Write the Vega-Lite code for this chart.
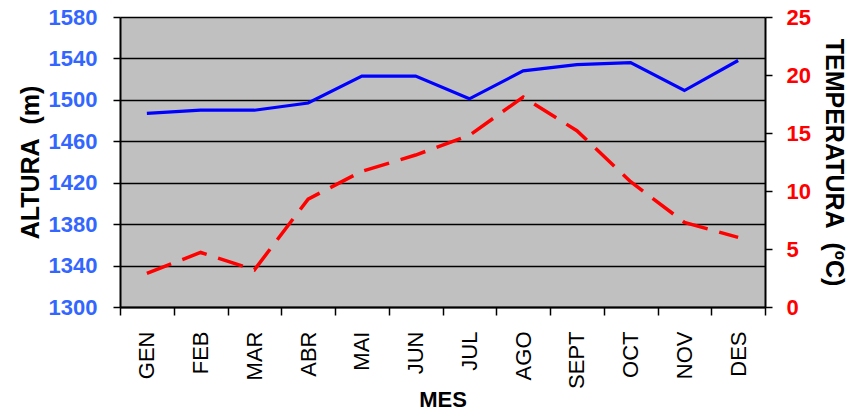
{
  "$schema": "https://vega.github.io/schema/vega-lite/v6.json",
  "autosize": "none",
  "width": 645,
  "height": 290,
  "padding": {"left": 120, "top": 17, "right": 96, "bottom": 105},
  "background": "white",
  "config": {
    "view": {"fill": "#C0C0C0", "stroke": null},
    "font": "Liberation Sans",
    "axis": {
      "domainColor": "black",
      "domainWidth": 2,
      "tickColor": "black",
      "tickWidth": 1.5,
      "gridColor": "black",
      "gridWidth": 1.5,
      "gridOpacity": 1,
      "labelFont": "Liberation Sans",
      "titleFont": "Liberation Sans",
      "titleColor": "black"
    }
  },
  "data": {
    "values": [
      {"mes": "GEN", "altura": 1487, "temp": 2.9},
      {"mes": "FEB", "altura": 1490, "temp": 4.7},
      {"mes": "MAR", "altura": 1490, "temp": 3.2},
      {"mes": "ABR", "altura": 1497, "temp": 9.3},
      {"mes": "MAI", "altura": 1523, "temp": 11.7},
      {"mes": "JUN", "altura": 1523, "temp": 13.1},
      {"mes": "JUL", "altura": 1501, "temp": 14.8},
      {"mes": "AGO", "altura": 1528, "temp": 18.1},
      {"mes": "SEPT", "altura": 1534, "temp": 15.2},
      {"mes": "OCT", "altura": 1536, "temp": 10.8},
      {"mes": "NOV", "altura": 1509, "temp": 7.3},
      {"mes": "DES", "altura": 1538, "temp": 6.0}
    ]
  },
  "encoding": {
    "x": {
      "field": "mes",
      "type": "nominal",
      "sort": null,
      "bandPosition": 0.5,
      "scale": {"type": "band", "paddingInner": 0, "paddingOuter": 0},
      "axis": {
        "title": "MES",
        "titleFontSize": 22,
        "titleFontWeight": "bold",
        "titleBaseline": "alphabetic",
        "titleY": 99,
        "labelAngle": -90,
        "labelAlign": "right",
        "labelBaseline": "middle",
        "labelFontSize": 22,
        "labelColor": "black",
        "labelPadding": 16,
        "tickBand": "extent",
        "tickSize": 8,
        "grid": false
      }
    }
  },
  "layer": [
    {
      "mark": {"type": "line", "color": "#0000FF", "strokeWidth": 3.2},
      "encoding": {
        "y": {
          "field": "altura",
          "type": "quantitative",
          "scale": {"domain": [1300, 1580], "nice": false, "zero": false},
          "axis": {
            "orient": "left",
            "title": "ALTURA\u00a0\u00a0(m)",
            "titleFontSize": 25,
            "titleFontWeight": "bold",
            "titlePadding": 5,
            "values": [1300, 1340, 1380, 1420, 1460, 1500, 1540, 1580],
            "format": "d",
            "labelFontSize": 22,
            "labelFontWeight": "bold",
            "labelColor": "#3366FF",
            "labelPadding": 16,
            "tickSize": 7,
            "grid": true
          }
        }
      }
    },
    {
      "mark": {"type": "line", "color": "#FF0000", "strokeWidth": 3.5, "strokeDash": [26, 12]},
      "encoding": {
        "y": {
          "field": "temp",
          "type": "quantitative",
          "scale": {"domain": [0, 25], "nice": false},
          "axis": {
            "orient": "right",
            "title": "TEMPERATURA\u00a0\u00a0(ºC)",
            "titleFontSize": 25,
            "titleFontWeight": "bold",
            "titlePadding": 10,
            "values": [0, 5, 10, 15, 20, 25],
            "labelFontSize": 22,
            "labelFontWeight": "bold",
            "labelColor": "#FF0000",
            "labelPadding": 14,
            "tickSize": 7,
            "grid": false
          }
        }
      }
    }
  ],
  "resolve": {"scale": {"y": "independent"}}
}
